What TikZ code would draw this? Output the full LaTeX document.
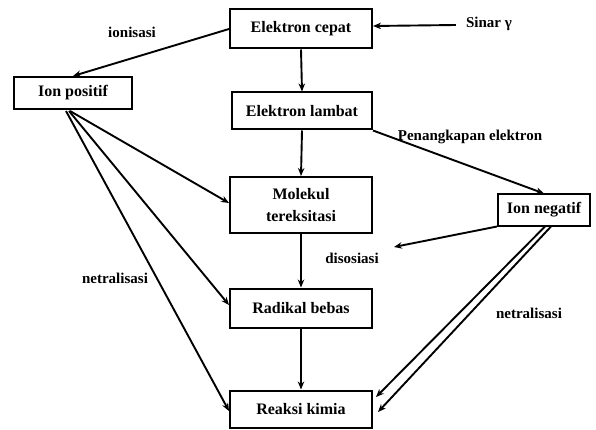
\documentclass[tikz,border=0pt]{standalone}
\usepackage{fontspec}
\setmainfont{Liberation Serif}
\usetikzlibrary{arrows.meta,calc}
\begin{document}
\begin{tikzpicture}[x=1pt,y=-1pt,
  box/.style={draw,line width=2pt,inner sep=0pt,font=\fontsize{16}{22}\selectfont\bfseries,align=center},
  lbl/.style={inner sep=0pt,font=\fontsize{15}{18}\selectfont\bfseries},
  arr/.style={line width=1.9pt,-{Stealth[length=8pt,width=6.5pt]}}]
\useasboundingbox[fill=white] (0,0) rectangle (596,430);
\node[box,minimum width=142pt,minimum height=39pt] (ec) at (301,29) {Elektron cepat};
\node[box,minimum width=140pt,minimum height=37pt] (el) at (302,111) {Elektron lambat};
\node[box,minimum width=118pt,minimum height=32pt] (ip) at (73,93) {Ion positif};
\node[box,minimum width=142pt,minimum height=56pt] (mol) at (301,205) {Molekul\\tereksitasi};
\node[box,minimum width=92pt,minimum height=31pt] (ineg) at (544,210) {Ion negatif};
\node[box,minimum width=142pt,minimum height=39pt] (rad) at (301,308) {Radikal bebas};
\node[box,minimum width=142pt,minimum height=37pt] (rk) at (301,409) {Reaksi kimia};
\node[lbl] (sinar) at (489,24) {Sinar γ};
\node[lbl] (ion) at (132,32) {ionisasi};
\node[lbl] (pen) at (470,137) {Penangkapan elektron};
\node[lbl] (dis) at (352,258) {disosiasi};
\node[lbl] (netl) at (115,278) {netralisasi};
\node[lbl] (netr) at (529,313) {netralisasi};
\coordinate (dtip) at (394,247);
\draw[arr] (ec.west) -- (ip.north);
\draw[arr] ($(sinar.west)+(-10,1)$) -- ($(ec.east)+(0,-3)$);
\draw[arr] (ec.south) -- (el.north);
\draw[arr] (el.south) -- (mol.north);
\draw[arr] (el.south east) -- (ineg.north);
\draw[arr] (mol.south) -- (rad.north);
\draw[arr] (rad.south) -- (rk.north);
\draw[arr] (ineg.south west) -- (dtip);
\draw[arr] ($(ineg.south)+(1,0)$) -- ($(rk.east)+(3,-12)$);
\draw[arr] ($(ineg.south)+(7,0)$) -- ($(rk.east)+(5,3)$);
\draw[arr] ($(ip.south)+(-3,1)$) -- ($(mol.west)+(0,-2)$);
\draw[arr] ($(ip.south)+(-4,1)$) -- ($(rad.west)+(0,-3)$);
\draw[arr] ($(ip.south)+(-7,1)$) -- ($(rk.west)+(0,2)$);
\end{tikzpicture}
\end{document}
